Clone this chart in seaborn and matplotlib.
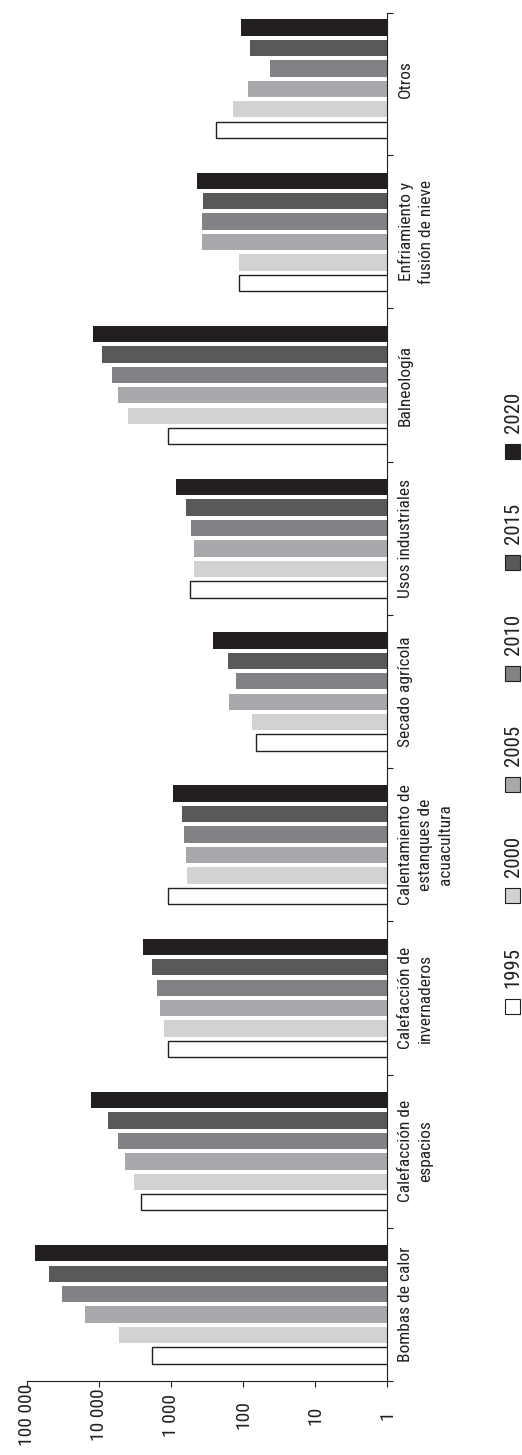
import numpy as np
import pandas as pd
import seaborn as sns
import matplotlib.pyplot as plt
from matplotlib import font_manager
from matplotlib.patches import Rectangle
from matplotlib.ticker import NullLocator

# categorias (de abajo hacia arriba en la figura girada)
categorias = ["Bombas de calor", "Calefacción de\nespacios",
              "Calefacción de\ninvernaderos",
              "Calentamiento de\nestanques de\nacuacultura",
              "Secado agrícola", "Usos industriales", "Balneología",
              "Enfriamiento y\nfusión de nieve", "Otros"]
anios = ["1995", "2000", "2005", "2010", "2015", "2020"]

v1995 = [1850, 2580, 1085, 1095, 67, 544, 1085, 115, 238]
v2000 = [5275, 3260, 1245, 605, 74, 474, 3960, 114, 137]
v2005 = [15400, 4370, 1400, 615, 157, 484, 5400, 370, 86]
v2010 = [33100, 5390, 1545, 655, 125, 533, 6700, 368, 42]
v2015 = [49900, 7560, 1830, 695, 161, 610, 9140, 360, 79]
v2020 = [77500, 12770, 2460, 950, 257, 852, 12250, 435, 106]

colores = ["#ffffff", "#d1d2d4", "#a7a9ac", "#808285", "#58595b", "#231f20"]
tinta = "#231f20"

ticks_x = [100000, 10000, 1000, 100, 10, 1]
ticks_x_txt = ["100 000", "10 000", "1 000", "100", "10", "1"]

series = [v1995, v2000, v2005, v2010, v2015, v2020]
df = pd.DataFrame({
    "uso": categorias * len(anios),
    "anio": [a for a in anios for _ in categorias],
    "valor": [v for s in series for v in s],
})

# fuente estrecha si existe
nombres = {f.name for f in font_manager.fontManager.ttflist}
estrecha = None
for cand in ["Liberation Sans Narrow", "DejaVu Sans Condensed",
             "Roboto Condensed", "Open Sans Condensed"]:
    if cand in nombres:
        estrecha = cand
        break

sns.set_theme(style="white")
plt.rcParams["font.family"] = ([estrecha] if estrecha else []) + ["DejaVu Sans"]
plt.rcParams["text.color"] = tinta

W, H = 522, 1455
fig = plt.figure(figsize=(W / 100, H / 100), dpi=100)
fig.patch.set_facecolor("white")
ax = fig.add_axes([27 / W, 74 / H, 360 / W, 1379 / H])

sns.barplot(data=df, y="uso", x="valor", hue="anio", order=categorias,
            hue_order=anios, palette=colores, orient="h", width=0.8, gap=0.2,
            saturation=1, legend=False, linewidth=0, errorbar=None, ax=ax)

# la serie 1995 lleva contorno
for barra in ax.containers[0]:
    barra.set_edgecolor(tinta)
    barra.set_linewidth(1.0)

n = len(categorias)
tope = n - 0.5 - 0.075  # el eje acaba un poco antes del ultimo grupo

ax.set_xscale("log")
ax.set_xlim(1e5, 1)
ax.set_ylim(-0.5, n - 0.5)
ax.set_xlabel("")
ax.set_ylabel("")

# eje de valores (abajo)
ax.set_xticks(ticks_x, labels=ticks_x_txt)
ax.xaxis.set_minor_locator(NullLocator())
ax.tick_params(axis="x", which="major", direction="out", length=4.5,
               width=0.8, color=tinta, labelsize=14, labelrotation=90,
               pad=20, labelcolor=tinta, bottom=True)
for t in ax.get_xticklabels():
    t.set_va("center")

# eje de categorias (derecha)
ax.yaxis.tick_right()
ax.set_yticks(range(n), labels=categorias)
ax.set_yticks(list(np.arange(-0.5, n - 1, 1)) + [tope], minor=True)
ax.tick_params(axis="y", which="major", length=0, pad=8, labelsize=12.5,
               labelrotation=90, labelcolor=tinta)
ax.tick_params(axis="y", which="minor", length=4, width=0.8,
               direction="out", color=tinta, right=True, left=False)
for t in ax.get_yticklabels():
    t.set_ha("left")
    t.set_va("center")
    t.set_multialignment("center")
    t.set_linespacing(1.4)

for lado in ["left", "top"]:
    ax.spines[lado].set_visible(False)
for lado in ["right", "bottom"]:
    ax.spines[lado].set_color(tinta)
    ax.spines[lado].set_linewidth(0.8)
ax.spines["right"].set_bounds(-0.5, tope)

# leyenda girada, hecha a mano
for i, (anio, col) in enumerate(zip(anios, colores)):
    cy = 1006 - i * 111
    fig.patches.append(Rectangle((505 / W, (H - cy - 7.5) / H), 15 / W, 15 / H,
                                 transform=fig.transFigure, facecolor=col,
                                 edgecolor=tinta, linewidth=0.8))
    fig.text(513 / W, (H - (cy - 39)) / H, anio, rotation=90,
             ha="center", va="center", fontsize=15, color=tinta)

fig.savefig("out.png", dpi=100, facecolor="white")
